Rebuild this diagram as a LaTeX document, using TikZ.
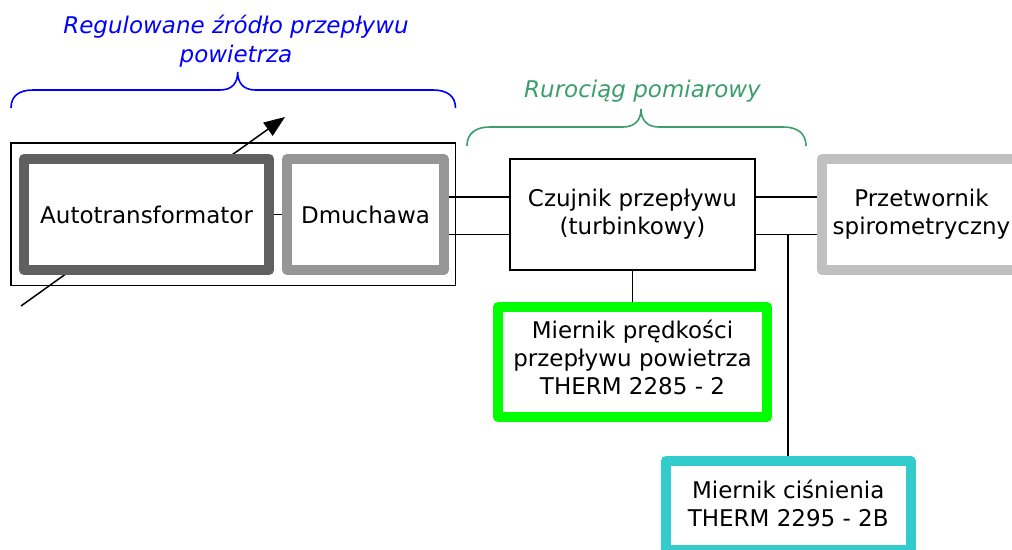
\documentclass[tikz,border=0pt]{standalone}
\usepackage{fontspec}
\setmainfont{DejaVu Sans}
\usetikzlibrary{arrows.meta}
\definecolor{autogray}{RGB}{96,96,96}
\definecolor{dmgray}{RGB}{150,150,150}
\definecolor{prgray}{RGB}{192,192,192}
\definecolor{brightgreen}{RGB}{0,255,0}
\definecolor{cyanbox}{RGB}{51,204,204}
\definecolor{titlegreen}{RGB}{60,158,108}
\definecolor{titleblue}{RGB}{0,0,255}
\newcommand{\diagfont}{\fontsize{23}{28}\selectfont}
\newcommand{\titlefont}{\fontsize{23}{28.5}\selectfont\itshape}
\tikzset{
  wire/.style={line width=1.5pt, draw=black},
  thickbox/.style={draw=#1, line width=10pt, fill=white, line join=round,
    inner sep=0pt, font=\diagfont, align=center},
  thinbox/.style={wire, fill=white, inner sep=0pt, font=\diagfont, align=center},
  brace/.style={line width=1.6pt, draw=#1},
  title/.style={inner sep=0pt, font=\titlefont, align=center, text=#1}
}
\begin{document}
\begin{tikzpicture}[x=1pt,y=-1pt]
\useasboundingbox (0,0) rectangle (1012,549);
\clip (0,0) rectangle (1012,549);

% titles
\node[title=titleblue] (t1) at (236,41.2) {Regulowane źródło przepływu\\powietrza};
\node[title=titlegreen, anchor=base] (t2) at (642.5,97) {Rurociąg pomiarowy};

% braces
\draw[brace=titleblue] (11,108) .. controls (11,96) and (19,90) .. (33,90) -- (220,90)
  .. controls (232,90) and (237.7,83) .. (237.7,72)
  .. controls (237.7,83) and (243.4,90) .. (255.4,90) -- (433,90)
  .. controls (447,90) and (455.5,96) .. (455.5,108);
\draw[brace=titlegreen] (467,146) .. controls (467,133) and (476,127) .. (490,127) -- (623,127)
  .. controls (635,127) and (641,120) .. (641,109)
  .. controls (641,120) and (647,127) .. (659,127) -- (783,127)
  .. controls (797,127) and (806,133) .. (806,146);

% source enclosure
\node[wire, minimum width=444.7pt, minimum height=142.7pt, inner sep=0pt] (src) at (233.35,214.35) {};

% adjustable arrow (passes beneath the autotransformer)
\coordinate (arrS) at (21,306);
\coordinate (arrE) at (285,117);
\draw[wire, -{Triangle[length=21pt,width=16pt]}] (arrS) -- (arrE);

% boxes
\node[thickbox=autogray, line width=10.5pt, minimum width=244.75pt, minimum height=111pt] (au) at (146.6,214.5) {Autotransformator};
\node[thickbox=dmgray, minimum width=156.4pt, minimum height=111pt] (dm) at (365.5,214.5) {Dmuchawa};
\node[thinbox, minimum width=245pt, minimum height=111pt] (cz) at (632.5,214.5) {Czujnik przepływu\\(turbinkowy)};
\node[thickbox=prgray, minimum width=199pt, minimum height=111pt] (pr) at (921.5,214.5) {Przetwornik\\spirometryczny};
\node[thickbox=brightgreen, minimum width=269pt, minimum height=110pt, text depth=10pt] (gr) at (632.5,362) {Miernik prędkości\\przepływu powietrza\\THERM 2285 - 2};
\node[thickbox=cyanbox, minimum width=245pt, minimum height=89pt, text depth=5pt] (cy) at (788.2,505.5) {Miernik ciśnienia\\THERM 2295 - 2B};

% connectors
\coordinate (py1) at (0,197);
\coordinate (py2) at (0,234.5);
\draw[wire] (au.east) -- (dm.west);
\draw[wire] (dm.east |- py1) -- (cz.west |- py1);
\draw[wire] (dm.east |- py2) -- (cz.west |- py2);
\draw[wire] (cz.east |- py1) -- (pr.west |- py1);
\draw[wire] (cz.east |- py2) -- (pr.west |- py2);
\draw[wire] (cz.south) -- (gr.north);
\draw[wire] (cy.north) -- (cy.north |- py2);
\end{tikzpicture}
\end{document}
